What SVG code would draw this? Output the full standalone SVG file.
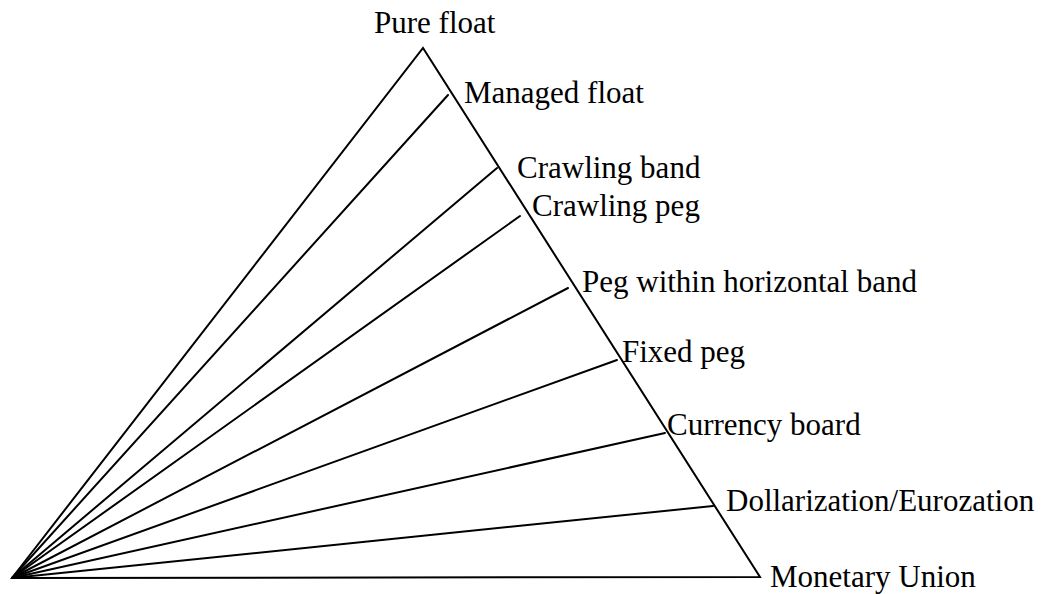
<svg xmlns="http://www.w3.org/2000/svg" width="1045" height="594" viewBox="0 0 1045 594">
<style>
.ln{stroke:#000;stroke-width:2;fill:none;stroke-linecap:round;stroke-linejoin:miter}
.t{font-family:"Liberation Serif","Times New Roman",serif;font-size:31px;fill:#000}
</style>
<rect width="1045" height="594" fill="#fff"/>
<g id="triangle">
<path class="ln" d="M12,578 L423,48 L760,577 Z"/>
</g>
<g id="connectors">
<line class="ln" x1="12" y1="578" x2="448" y2="95"/>
<line class="ln" x1="12" y1="578" x2="497" y2="168"/>
<line class="ln" x1="12" y1="578" x2="520" y2="216"/>
<line class="ln" x1="12" y1="578" x2="568" y2="288"/>
<line class="ln" x1="12" y1="578" x2="617" y2="360"/>
<line class="ln" x1="12" y1="578" x2="665" y2="433"/>
<line class="ln" x1="12" y1="578" x2="713" y2="506"/>
</g>
<g id="pure-float"><text class="t" x="374" y="33">Pure float</text></g>
<g id="managed-float"><text class="t" x="464" y="103">Managed float</text></g>
<g id="crawling-band"><text class="t" x="517" y="178">Crawling band</text></g>
<g id="crawling-peg"><text class="t" x="532" y="216">Crawling peg</text></g>
<g id="peg-band"><text class="t" x="582" y="292">Peg within horizontal band</text></g>
<g id="fixed-peg"><text class="t" x="622" y="362">Fixed peg</text></g>
<g id="currency-board"><text class="t" x="667" y="435">Currency board</text></g>
<g id="dollarization"><text class="t" x="726" y="511">Dollarization/Eurozation</text></g>
<g id="monetary-union"><text class="t" x="770" y="587">Monetary Union</text></g>
</svg>
